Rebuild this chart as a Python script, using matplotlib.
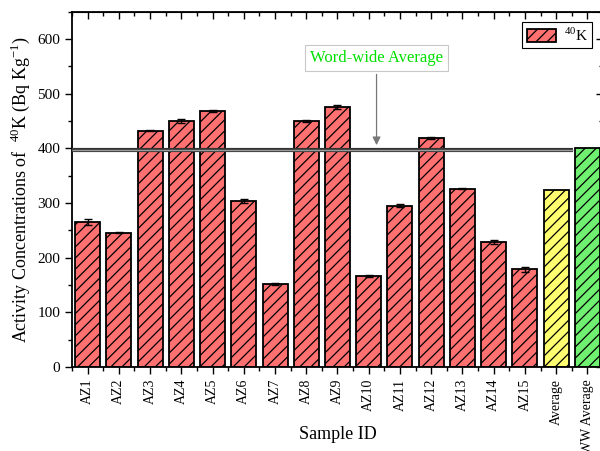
import matplotlib
matplotlib.use("Agg")
import matplotlib.pyplot as plt
from matplotlib.ticker import MultipleLocator

plt.rcParams["font.family"] = ["Liberation Serif", "DejaVu Serif"]
plt.rcParams["mathtext.fontset"] = "custom"
plt.rcParams["mathtext.rm"] = "Liberation Serif"
plt.rcParams["hatch.linewidth"] = 0.9

samples = ["AZ1", "AZ2", "AZ3", "AZ4", "AZ5", "AZ6", "AZ7", "AZ8", "AZ9",
           "AZ10", "AZ11", "AZ12", "AZ13", "AZ14", "AZ15", "Average", "WW Average"]
k40 = [265, 246, 432, 450, 469, 304, 152, 450, 476,
       166, 295, 419, 326, 229, 179, 324, 400]
k40_err = [5, 1, 1, 3, 2, 3, 1, 2, 3, 2, 3, 1, 1, 3, 5, 0, 0]
ww_avg = 398

colors = ["#ff7070"] * 15 + ["#ffff70", "#70f070"]
x = list(range(1, len(samples) + 1))

fig = plt.figure(figsize=(6, 4.51), dpi=100)
ax = fig.add_axes([0.12, 0.186, 0.885, 0.788])

bars = ax.bar(x, k40, width=0.8, color=colors, edgecolor="black",
              linewidth=1.3, hatch="///", label="$^{40}$K")
ax.errorbar(x[:15], k40[:15], yerr=k40_err[:15], fmt="none",
            ecolor="black", elinewidth=1, capsize=3, capthick=1)

# world-wide average line (double line look)
ax.hlines(ww_avg, 0.5, 16.55, colors="#333333", linewidth=3, zorder=3)
ax.hlines(ww_avg, 0.5, 16.55, colors="#9a9a9a", linewidth=1, zorder=3)

ax.annotate("Word-wide Average", xy=(10.25, ww_avg + 8), xytext=(10.25, 565),
            ha="center", va="center", color="#00e000", fontsize=12,
            bbox=dict(boxstyle="square,pad=0.3", fc="white", ec="#c8c8c8", lw=0.8),
            arrowprops=dict(arrowstyle="-|>", color="#777777", lw=0.9,
                            shrinkA=2, shrinkB=0, mutation_scale=12))

ax.set_xlim(0.5, 17.5)
ax.set_ylim(0, 650)
ax.set_xticks(x)
ax.set_xticklabels(samples, rotation=90, fontsize=10)
ax.xaxis.set_minor_locator(MultipleLocator(0.5))
ax.yaxis.set_major_locator(MultipleLocator(100))
ax.yaxis.set_minor_locator(MultipleLocator(50))
ax.tick_params(axis="both", which="major", labelsize=11, direction="out",
               length=5, width=1, top=False, right=False)
ax.tick_params(axis="both", which="minor", direction="out", length=3, width=1,
               top=False, right=False)
ax.tick_params(axis="x", which="major", labelsize=10)

# inward ticks on top and right like the original
for spine in ax.spines.values():
    spine.set_linewidth(1.3)
top = ax.secondary_xaxis("top")
top.set_xticks(x)
top.xaxis.set_minor_locator(MultipleLocator(0.5))
top.tick_params(which="major", direction="in", length=5, width=1, labeltop=False)
top.tick_params(which="minor", direction="in", length=3, width=1)
right = ax.secondary_yaxis("right")
right.yaxis.set_major_locator(MultipleLocator(100))
right.yaxis.set_minor_locator(MultipleLocator(50))
right.tick_params(which="major", direction="in", length=5, width=1, labelright=False)
right.tick_params(which="minor", direction="in", length=3, width=1)

ax.set_xlabel("Sample ID", fontsize=13)
ax.xaxis.set_label_coords(0.5, -0.19)
ax.xaxis.label.set_va("center")
ax.set_ylabel("Activity Concentrations of  $^{40}$K (Bq Kg$^{-1}$)", fontsize=13)

leg = ax.legend(handles=[bars[0]], labels=["$^{40}$K"], loc="upper right",
                bbox_to_anchor=(0.98, 0.972), borderaxespad=0, fontsize=11,
                fancybox=False, edgecolor="black", framealpha=1,
                handlelength=1.9, handleheight=0.9, borderpad=0.3,
                handletextpad=0.5)
leg.get_frame().set_linewidth(0.8)

fig.savefig("out.png", dpi=100)
